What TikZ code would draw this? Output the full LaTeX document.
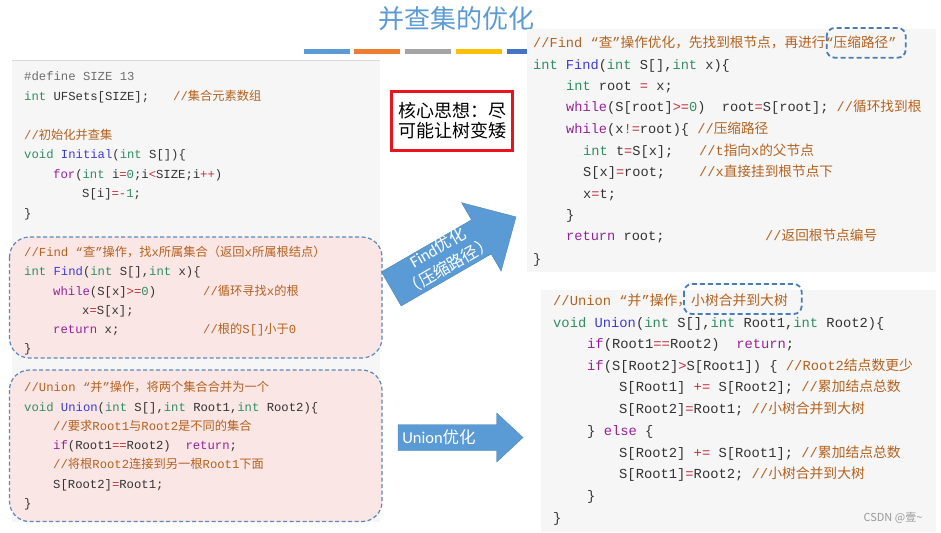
\documentclass[tikz,border=0pt]{standalone}
\usepackage{fontspec}
\setmainfont{Liberation Sans}
\newfontfamily\codefont{Liberation Mono}
\newfontfamily\cjk{Noto Sans CJK SC}
\newfontfamily\arrowfont{Carlito}
\definecolor{titlec}{HTML}{5B9BD5}
\definecolor{barA}{HTML}{5B9BD5}
\definecolor{barB}{HTML}{ED7D31}
\definecolor{barC}{HTML}{A5A5A5}
\definecolor{barD}{HTML}{FFC000}
\definecolor{barE}{HTML}{4472C4}
\definecolor{panelc}{HTML}{F6F6F6}
\definecolor{pinkc}{HTML}{FBE6E6}
\definecolor{dashc}{HTML}{5B88BC}
\definecolor{hilitec}{HTML}{4A7DB6}
\definecolor{arrowc}{HTML}{5B9BD5}
\definecolor{codec}{HTML}{333333}
\definecolor{kwc}{HTML}{2E8F62}
\definecolor{fnc}{HTML}{3B3BD8}
\definecolor{ctc}{HTML}{97229A}
\definecolor{opc}{HTML}{C0303A}
\definecolor{cmc}{HTML}{B4621E}
\definecolor{defc}{HTML}{6E6E6E}
\definecolor{redbox}{HTML}{E8141E}
\newcommand\zh[1]{{\cjk #1}}
\newcommand\Kw[1]{\textcolor{kwc}{#1}}
\newcommand\Fn[1]{\textcolor{fnc}{#1}}
\newcommand\Ct[1]{\textcolor{ctc}{#1}}
\newcommand\Op[1]{\textcolor{opc}{#1}}
\newcommand\Cm[1]{\textcolor{cmc}{#1}}
\newcommand\Nm[1]{\textcolor{kwc}{#1}}
\tikzset{
 lcode/.style={anchor=base west, inner sep=0pt, text=codec, font=\codefont\fontsize{12.25}{14}\selectfont},
 rtcode/.style={lcode, font=\codefont\fontsize{13.66}{16}\selectfont},
 rbcode/.style={lcode, font=\codefont\fontsize{13.8}{16}\selectfont},
 panel/.style={fill=panelc, draw=none},
 pinkbox/.style={fill=pinkc, draw=dashc, line width=1.2pt, dash pattern=on 4pt off 2.5pt, rounded corners=20pt},
 hilite/.style={draw=hilitec, line width=1.8pt, dash pattern=on 5pt off 3pt, rounded corners=8pt},
 blockarrow/.style={fill=arrowc, draw=arrowc!85!black, line width=0.4pt},
 arrowtext/.style={text=white, inner sep=0pt, align=center, font=\arrowfont\fontsize{16.5}{21.5}\selectfont},
}
\begin{document}
\begin{tikzpicture}[x=1pt,y=-1pt]
\useasboundingbox (0,0) rectangle (941,532);
\fill[white] (0,0) rectangle (941,532);
% colour bars
\fill[barA] (304,49) rectangle (350,54);
\fill[barB] (354,49) rectangle (400,54);
\fill[barC] (405,49) rectangle (451,54);
\fill[barD] (456,49) rectangle (502,54);
\fill[barE] (507,49) rectangle (530,54);
% title
\node[font=\cjk\fontsize{26}{30}\selectfont, text=titlec, inner sep=0pt] (title) at (456,19) {并查集的优化};
% left panel
\fill[panel] (12,60) rectangle (380,522);
\draw[gray!30, line width=0.8pt] (12,60) -- (380,60);
\draw[pinkbox] (9.5,237) rectangle (382,358);
\draw[pinkbox] (9.5,370) rectangle (382,521.5);
% left code
\node[lcode] (a1) at (24,81) {\textcolor{defc}{\#define SIZE 13}};
\node[lcode] (a2) at (24,101) {\Kw{int} UFSets[SIZE];};
\node[lcode] (a2c) at (173,101) {\Cm{//\zh{集合元素数组}}};
\node[lcode] (a3) at (24,139.3) {\Cm{//\zh{初始化并查集}}};
\node[lcode] (a4) at (24,158.3) {\Kw{void} \Fn{Initial}(\Kw{int} S[])\{};
\node[lcode] (a5) at (53,178.3) {\Ct{for}(\Kw{int} i\Op{=}\Nm{0};i\Op{<}SIZE;i\Op{++})};
\node[lcode] (a6) at (82,197) {S[i]\Op{=-}\Nm{1};};
\node[lcode] (a7) at (24,217.3) {\}};
% left find
\node[lcode] (b1) at (24,256) {\Cm{//Find “\zh{查}”\zh{操作，找}x\zh{所属集合（返回}x\zh{所属根结点）}}};
\node[lcode] (b2) at (24,275.3) {\Kw{int} \Fn{Find}(\Kw{int} S[],\Kw{int} x)\{};
\node[lcode] (b3) at (53,295) {\Ct{while}(S[x]\Op{>=}\Nm{0})};
\node[lcode] (b3c) at (203,295) {\Cm{//\zh{循环寻找}x\zh{的根}}};
\node[lcode] (b4) at (82,314.3) {x\Op{=}S[x];};
\node[lcode] (b5) at (53,333.3) {\Ct{return} x;};
\node[lcode] (b5c) at (203,333.3) {\Cm{//\zh{根的}S[]\zh{小于}0}};
\node[lcode] (b6) at (24,352.6) {\}};
% left union
\node[lcode] (c1) at (24,391) {\Cm{//Union “\zh{并}”\zh{操作，将两个集合合并为一个}}};
\node[lcode] (c2) at (24,411) {\Kw{void} \Fn{Union}(\Kw{int} S[],\Kw{int} Root1,\Kw{int} Root2)\{};
\node[lcode] (c3) at (53,430.3) {\Cm{//\zh{要求}Root1\zh{与}Root2\zh{是不同的集合}}};
\node[lcode] (c4) at (53,449.3) {\Ct{if}(Root1\Op{==}Root2)~~\Ct{return};};
\node[lcode] (c5) at (53,468.6) {\Cm{//\zh{将根}Root2\zh{连接到另一根}Root1\zh{下面}}};
\node[lcode] (c6) at (53,488.3) {S[Root2]\Op{=}Root1;};
\node[lcode] (c7) at (24,507.6) {\}};
% red box
\node[draw=redbox, line width=2.6pt, minimum width=121pt, minimum height=59pt, inner sep=0pt,
      align=center, font=\cjk\fontsize{18}{20}\selectfont] (core) at (452.2,121) {核心思想：尽\\可能让树变矮};
% find arrow
\begin{scope}[shift={(391.3,288.9)}, rotate=30]
\fill[blockarrow] (0,-19.7) -- (104,-19.7) -- (104,-39.5) -- (144,0) -- (104,39.5) -- (104,19.7) -- (0,19.7) -- cycle;
\node[arrowtext, rotate=30] (findtxt) at (61,-2) {Find\zh{优化}\\\zh{（压缩路径）}};
\end{scope}
% union arrow
\fill[blockarrow] (398,424.5) -- (496.7,424.5) -- (496.7,413) -- (523,437.5) -- (496.7,462) -- (496.7,450.5) -- (398,450.5) -- cycle;
\node[arrowtext] (uniontxt) at (439,437.5) {Union\zh{优化}};
% right panels
\fill[panel] (527,29) rectangle (936,272);
\fill[panel] (541,290) rectangle (936,532);
% right top code
\node[rtcode] (d1) at (533,47.1) {\Cm{//Find “\zh{查}”\zh{操作优化，先找到根节点，再进行}“\zh{压缩路径}”}};
\node[rtcode] (d2) at (533,69.1) {\Kw{int} \Fn{Find}(\Kw{int} S[],\Kw{int} x)\{};
\node[rtcode] (d3) at (566,90.8) {\Kw{int} root \Op{=} x;};
\node[rtcode] (d4) at (566,111.8) {\Ct{while}(S[root]\Op{>=}\Nm{0})~~root\Op{=}S[root];~\Cm{//\zh{循环找到根}}};
\node[rtcode] (d5) at (566,133.5) {\Ct{while}(x\Op{!=}root)\{~\Cm{//\zh{压缩路径}}};
\node[rtcode] (d6) at (583,155.1) {\Kw{int} t\Op{=}S[x];};
\node[rtcode] (d6c) at (699,155.1) {\Cm{//t\zh{指向}x\zh{的父节点}}};
\node[rtcode] (d7) at (583,176.5) {S[x]\Op{=}root;};
\node[rtcode] (d7c) at (699,176.5) {\Cm{//x\zh{直接挂到根节点下}}};
\node[rtcode] (d8) at (583,198.1) {x\Op{=}t;};
\node[rtcode] (d9) at (566,219.8) {\}};
\node[rtcode] (d10) at (566,240.8) {\Ct{return} root;};
\node[rtcode] (d10c) at (765,240.8) {\Cm{//\zh{返回根节点编号}}};
\node[rtcode] (d11) at (533,263.1) {\}};
% right bottom code
\node[rbcode] (e1) at (553,305.5) {\Cm{//Union “\zh{并}”\zh{操作，小树合并到大树}}};
\node[rbcode] (e2) at (553,327.1) {\Kw{void} \Fn{Union}(\Kw{int} S[],\Kw{int} Root1,\Kw{int} Root2)\{};
\node[rbcode] (e3) at (587,348.1) {\Ct{if}(Root1\Op{==}Root2)~~\Ct{return};};
\node[rbcode] (e4) at (587,370.5) {\Ct{if}(S[Root2]\Op{>}S[Root1])~\{~\Cm{//Root2\zh{结点数更少}}};
\node[rbcode] (e5) at (619,391.5) {S[Root1]~\Op{+=}~S[Root2];~\Cm{//\zh{累加结点总数}}};
\node[rbcode] (e6) at (619,413.1) {S[Root2]\Op{=}Root1;~\Cm{//\zh{小树合并到大树}}};
\node[rbcode] (e7) at (587,435.5) {\}~\Ct{else}~\{};
\node[rbcode] (e8) at (619,457.1) {S[Root2]~\Op{+=}~S[Root1];~\Cm{//\zh{累加结点总数}}};
\node[rbcode] (e9) at (619,478.1) {S[Root1]\Op{=}Root2;~\Cm{//\zh{小树合并到大树}}};
\node[rbcode] (e10) at (587,500.8) {\}};
\node[rbcode] (e11) at (553,522.5) {\}};
% highlights
\draw[hilite] (826.7,28) rectangle (905.7,57.7);
\draw[hilite] (684,284) rectangle (801.7,314);
% csdn
\node[font=\cjk\fontsize{11}{12}\selectfont, text=gray!80, inner sep=0pt] (csdn) at (893,518) {CSDN @壹\textasciitilde};
\end{tikzpicture}
\end{document}
